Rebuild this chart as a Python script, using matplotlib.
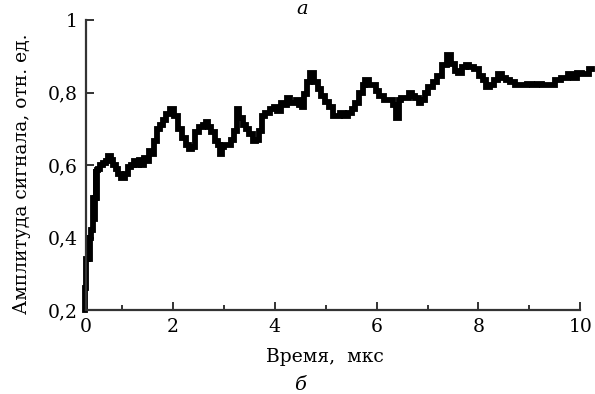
import matplotlib
matplotlib.use("Agg")
import matplotlib.pyplot as plt
from matplotlib.ticker import FixedLocator

# Data (time in µs, amplitude in rel. units)
time_us = [0.27, 0.29, 0.31, 0.33, 0.35, 0.37, 0.41, 0.43, 0.45, 0.47, 0.49, 0.50, 0.51,
           0.55, 0.60, 0.65, 0.70, 0.76, 0.80, 0.85, 0.90, 0.95, 1.02, 1.08, 1.16, 1.20,
           1.25, 1.30, 1.35, 1.40, 1.45, 1.49, 1.55, 1.60, 1.65, 1.72, 1.78, 1.84, 1.90,
           1.98, 2.05, 2.14, 2.22, 2.28, 2.34, 2.40, 2.47, 2.55, 2.62, 2.67, 2.72, 2.78,
           2.86, 2.90, 2.94, 2.97, 3.05, 3.12, 3.17, 3.22, 3.28, 3.33, 3.40, 3.45, 3.52,
           3.61, 3.66, 3.71, 3.77, 3.85, 3.95, 4.02, 4.08, 4.16, 4.22, 4.26, 4.32, 4.40,
           4.45, 4.50, 4.55, 4.59, 4.66, 4.73, 4.80, 4.88, 4.95, 5.02, 5.10, 5.18, 5.25,
           5.32, 5.40, 5.48, 5.55, 5.61, 5.70, 5.75, 5.81, 5.90, 5.95, 6.01, 6.10, 6.20,
           6.28, 6.36, 6.42, 6.45, 6.52, 6.60, 6.66, 6.71, 6.80, 6.85, 6.91, 6.98, 7.05,
           7.15, 7.24, 7.34, 7.42, 7.50, 7.56, 7.65, 7.72, 7.78, 7.85, 7.97, 8.05, 8.12,
           8.19, 8.27, 8.35, 8.42, 8.50, 8.58, 8.66, 8.78, 8.90, 9.00, 9.10, 9.20, 9.30,
           9.45, 9.55, 9.70, 9.80, 9.90, 9.96, 10.10, 10.23]
amplitude = [0.20, 0.26, 0.34, 0.40, 0.34, 0.40, 0.42, 0.51, 0.45, 0.51, 0.59, 0.51, 0.585,
             0.59, 0.60, 0.605, 0.61, 0.625, 0.615, 0.60, 0.59, 0.575, 0.565, 0.575, 0.595, 0.60,
             0.61, 0.60, 0.615, 0.60, 0.62, 0.61, 0.64, 0.63, 0.665, 0.70, 0.71, 0.725, 0.74,
             0.755, 0.735, 0.70, 0.675, 0.655, 0.645, 0.65, 0.69, 0.705, 0.71, 0.72, 0.705, 0.69,
             0.665, 0.655, 0.63, 0.65, 0.655, 0.655, 0.67, 0.695, 0.755, 0.73, 0.71, 0.70, 0.685,
             0.665, 0.67, 0.695, 0.735, 0.745, 0.755, 0.76, 0.75, 0.77, 0.765, 0.785, 0.77, 0.77,
             0.78, 0.765, 0.76, 0.795, 0.83, 0.855, 0.83, 0.81, 0.79, 0.775, 0.76, 0.735, 0.735,
             0.745, 0.735, 0.745, 0.755, 0.77, 0.80, 0.82, 0.835, 0.82, 0.82, 0.805, 0.79, 0.78,
             0.78, 0.765, 0.73, 0.78, 0.785, 0.785, 0.80, 0.79, 0.785, 0.77, 0.78, 0.80, 0.815,
             0.83, 0.845, 0.875, 0.905, 0.88, 0.86, 0.855, 0.87, 0.875, 0.87, 0.865, 0.845, 0.835,
             0.815, 0.82, 0.835, 0.85, 0.84, 0.835, 0.83, 0.82, 0.82, 0.825, 0.82, 0.825, 0.82,
             0.82, 0.835, 0.84, 0.85, 0.84, 0.855, 0.85, 0.865]

x_tick_values = [0.29, 2, 4, 6, 8, 10]
x_tick_labels = ["0", "2", "4", "6", "8", "10"]
x_minor_values = [1, 3, 5, 7, 9]
y_tick_values = [0.2, 0.4, 0.6, 0.8, 1.0]
y_tick_labels = ["0,2", "0,4", "0,6", "0,8", "1"]

plt.rcParams['font.family'] = ['DejaVu Serif']

fig = plt.figure(figsize=(5.95, 3.94), dpi=100)
ax = fig.add_axes([0.1445, 0.2132, 0.8521, 0.7358])

ax.plot(time_us, amplitude, color='black', lw=4.2, drawstyle='steps-mid',
        solid_joinstyle='miter', clip_on=False)

ax.set_xlim(0.29, 10.25)
ax.set_ylim(0.2, 1.0)
ax.spines['top'].set_visible(False)
ax.spines['right'].set_visible(False)
spine_col = '#333333'
for s in ('left', 'bottom'):
    ax.spines[s].set_linewidth(1.6)
    ax.spines[s].set_color(spine_col)
ax.spines['bottom'].set_bounds(0.29, 10)

ax.xaxis.set_major_locator(FixedLocator(x_tick_values))
ax.set_xticklabels(x_tick_labels)
ax.xaxis.set_minor_locator(FixedLocator(x_minor_values))
ax.yaxis.set_major_locator(FixedLocator(y_tick_values))
ax.set_yticklabels(y_tick_labels)

ax.tick_params(axis='both', which='major', direction='in', length=6, width=1.4,
               color=spine_col, labelsize=13.5, pad=6)
ax.tick_params(axis='x', which='minor', direction='in', length=3.5, width=1.4, color=spine_col)

ax.set_xlabel("Время,  мкс", fontsize=13.5, labelpad=6)
ax.xaxis.set_label_coords(0.472, -0.13)
ax.set_ylabel("Амплитуда сигнала, отн. ед.", fontsize=13.5, labelpad=8)
ax.yaxis.set_label_coords(-0.108, 0.47)

fig.text(0.508, 1.0, "а", fontsize=14, style='italic', ha='center', va='top')
fig.text(0.505, 0.0, "б", fontsize=14, style='italic', ha='center', va='bottom')

fig.savefig("out.png", dpi=100)
